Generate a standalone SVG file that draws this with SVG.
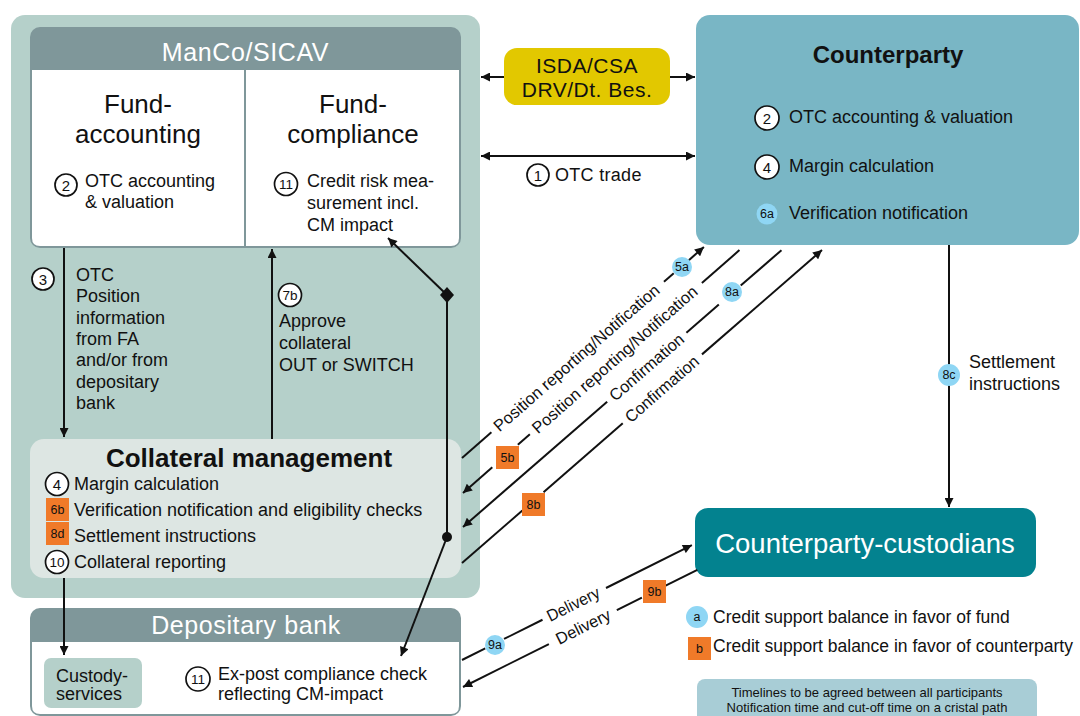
<svg xmlns="http://www.w3.org/2000/svg" width="1080" height="716" viewBox="0 0 1080 716">
<defs>
<marker id="ah" viewBox="0 0 10 10" refX="10" refY="5" markerWidth="10" markerHeight="9" markerUnits="userSpaceOnUse" orient="auto">
<path d="M0,0 L10,5 L0,10 Z" fill="#111"/>
</marker>
<marker id="ahs" viewBox="0 0 10 10" refX="0" refY="5" markerWidth="10" markerHeight="9" markerUnits="userSpaceOnUse" orient="auto">
<path d="M10,0 L0,5 L10,10 Z" fill="#111"/>
</marker>
<style>
text{font-family:"Liberation Sans",Arial,sans-serif;fill:#111}
.b{font-size:18px}
.h{font-size:26px}
.w{fill:#fff}
.lab{font-size:16.5px}
.cn{fill:#fff;stroke:#111;stroke-width:1.7}
.nt{font-size:15px;text-anchor:middle}
.nt2{font-size:13.5px;text-anchor:middle}
.lb{fill:#8fd6f4}
.or{fill:#f07a29}
.bt{font-size:12.5px;text-anchor:middle}
.ln{stroke:#111;stroke-width:2;fill:none}
.mid{text-anchor:middle}
</style>
</defs>

<g id="manco">
<rect x="11" y="15" width="469" height="583" rx="14" fill="#b5d0ca"/>
<rect x="30" y="27" width="431" height="221" rx="10" fill="#7f979a"/>
<path d="M32,70 H459 V238 Q459,246 451,246 H40 Q32,246 32,238 Z" fill="#fff"/>
<line x1="245" y1="70" x2="245" y2="246" stroke="#7f979a" stroke-width="2"/>
<text x="245.5" y="61" class="mid w" font-size="25" letter-spacing="0.6">ManCo/SICAV</text>
</g>

<g id="fund-accounting">
<text x="138" y="113" class="h mid">Fund-</text>
<text x="138" y="143" class="h mid">accounting</text>
<circle cx="66" cy="185" r="11" class="cn"/><text x="66" y="190.5" class="nt">2</text>
<text x="85" y="187" class="b">OTC accounting</text>
<text x="85" y="208" class="b">&amp; valuation</text>
</g>

<g id="fund-compliance">
<text x="353" y="113" class="h mid">Fund-</text>
<text x="353" y="143" class="h mid">compliance</text>
<circle cx="286" cy="184" r="11.5" class="cn"/><text x="286" y="189" class="nt2">11</text>
<text x="307" y="187" class="b">Credit risk mea-</text>
<text x="307" y="209" class="b">surement incl.</text>
<text x="307" y="231" class="b">CM impact</text>
</g>

<g id="collateral-management">
<rect x="30" y="439" width="431" height="139" rx="14" fill="#dde6e3"/>
<text x="249" y="467" class="mid" font-size="26" font-weight="bold">Collateral management</text>
<circle cx="57" cy="484" r="11.5" class="cn"/><text x="57" y="489.5" class="nt">4</text>
<text x="74" y="490" class="b">Margin calculation</text>
<rect x="46" y="498" width="23" height="23" class="or"/><text x="57.5" y="514" class="bt">6b</text>
<text x="74" y="516" class="b">Verification notification and eligibility checks</text>
<rect x="46" y="522" width="23" height="23" class="or"/><text x="57.5" y="538" class="bt">8d</text>
<text x="74" y="542" class="b">Settlement instructions</text>
<circle cx="57" cy="562" r="11.5" class="cn"/><text x="57" y="567" class="nt2">10</text>
<text x="74" y="568" class="b">Collateral reporting</text>
</g>

<g id="depositary-bank">
<rect x="30" y="608" width="431" height="108" rx="10" fill="#7f979a"/>
<path d="M32,642 H459 V706 Q459,714 451,714 H40 Q32,714 32,706 Z" fill="#fff"/>
<text x="246" y="634" class="mid w" font-size="25" letter-spacing="0.6">Depositary bank</text>
<rect x="44" y="658" width="98" height="50" rx="7" fill="#b5d0ca"/>
<text x="56" y="682" class="b">Custody-</text>
<text x="56" y="700" class="b">services</text>
<circle cx="198" cy="679" r="12" class="cn"/><text x="198" y="684" class="nt2">11</text>
<text x="218" y="680" class="b">Ex-post compliance check</text>
<text x="218" y="700" class="b">reflecting CM-impact</text>
</g>

<g id="isda">
<rect x="504" y="48" width="166" height="57" rx="13" fill="#e2c800"/>
<text x="587" y="73" class="mid" font-size="21" letter-spacing="0.5">ISDA/CSA</text>
<text x="587" y="97" class="mid" font-size="21" letter-spacing="0.5">DRV/Dt. Bes.</text>
</g>

<g id="counterparty">
<rect x="696" y="15" width="383" height="230" rx="14" fill="#79b6c5"/>
<text x="888" y="63" class="mid" font-size="24" font-weight="bold">Counterparty</text>
<circle cx="767" cy="118" r="12" class="cn"/><text x="767" y="123.5" class="nt">2</text>
<text x="789" y="123" class="b">OTC accounting &amp; valuation</text>
<circle cx="767" cy="167" r="12" class="cn"/><text x="767" y="172.5" class="nt">4</text>
<text x="789" y="172" class="b">Margin calculation</text>
<circle cx="767" cy="214" r="10.5" class="lb"/><text x="767" y="218" class="bt" font-size="11.5">6a</text>
<text x="789" y="219" class="b">Verification notification</text>
</g>

<g id="counterparty-custodians">
<rect x="695" y="508" width="341" height="69" rx="13" fill="#03828f"/>
<text x="865" y="553" class="mid w" font-size="27.5">Counterparty-custodians</text>
</g>

<g id="legend">
<circle cx="697" cy="617" r="11" class="lb"/><text x="697" y="621" class="bt">a</text>
<text x="713" y="623" font-size="17.5">Credit support balance in favor of fund</text>
<rect x="688" y="637" width="23" height="23" class="or"/><text x="699.5" y="653" class="bt">b</text>
<text x="713" y="652" font-size="17.5">Credit support balance in favor of counterparty</text>
</g>

<g id="timelines">
<rect x="697" y="679" width="340" height="50" rx="8" fill="#a8cdd6"/>
<text x="867" y="697" class="mid" font-size="13">Timelines to be agreed between all participants</text>
<text x="867" y="712" class="mid" font-size="13">Notification time and cut-off time on a cristal path</text>
</g>

<g id="connectors">
<line x1="504" y1="77" x2="481" y2="77" class="ln" marker-end="url(#ah)"/>
<line x1="670" y1="77" x2="695" y2="77" class="ln" marker-end="url(#ah)"/>
<line x1="481" y1="156" x2="695" y2="156" class="ln" marker-start="url(#ahs)" marker-end="url(#ah)"/>
<circle cx="538" cy="175" r="11" class="cn"/><text x="538" y="180.5" class="nt">1</text>
<text x="555" y="181" class="b" letter-spacing="0.3">OTC trade</text>
<line x1="64" y1="248" x2="64" y2="437" class="ln" marker-end="url(#ah)"/>
<circle cx="43" cy="279" r="11" class="cn"/><text x="43" y="284.5" class="nt">3</text>
<text x="76" y="281" class="b">OTC</text>
<text x="76" y="302" class="b">Position</text>
<text x="76" y="324" class="b">information</text>
<text x="76" y="345" class="b">from FA</text>
<text x="76" y="366" class="b">and/or from</text>
<text x="76" y="388" class="b">depositary</text>
<text x="76" y="409" class="b">bank</text>
<line x1="272" y1="439" x2="272" y2="249" class="ln" marker-end="url(#ah)"/>
<circle cx="290" cy="295" r="11.5" class="cn"/><text x="290" y="300" class="nt2">7b</text>
<text x="279" y="327" class="b">Approve</text>
<text x="279" y="349" class="b">collateral</text>
<text x="279" y="371" class="b">OUT or SWITCH</text>
<line x1="447" y1="295" x2="388" y2="238" class="ln" marker-end="url(#ah)"/>
<path d="M447,287 L454,295 L447,303 L440,295 Z" fill="#111"/>
<line x1="447" y1="295" x2="447" y2="537" class="ln"/>
<circle cx="447" cy="537" r="5" fill="#111"/>
<line x1="447" y1="537" x2="401" y2="656" class="ln" marker-end="url(#ah)"/>
<line x1="64" y1="578" x2="64" y2="655" class="ln" marker-end="url(#ah)"/>
<line x1="949" y1="245" x2="949" y2="507" class="ln" marker-end="url(#ah)"/>
<circle cx="949" cy="375" r="11" class="lb"/><text x="949" y="379" class="bt">8c</text>
<text x="969" y="368" class="b">Settlement</text>
<text x="969" y="390" class="b">instructions</text>

<g transform="translate(462,458) rotate(-41.1)">
<line x1="0" y1="0" x2="39" y2="0" class="ln"/>
<text x="45" y="5.5" class="lab" textLength="214" lengthAdjust="spacingAndGlyphs">Position reporting/Notification</text>
<line x1="268" y1="0" x2="281" y2="0" class="ln"/>
<line x1="301" y1="0" x2="321" y2="0" class="ln" marker-end="url(#ah)"/>
</g>
<circle cx="682" cy="267" r="10" class="lb"/><text x="682" y="271" class="bt">5a</text>
<g transform="translate(463,493) rotate(-41.3)">
<line x1="39" y1="0" x2="0" y2="0" class="ln" marker-end="url(#ah)"/>
<line x1="73" y1="0" x2="89" y2="0" class="ln"/>
<text x="95" y="5.5" class="lab" textLength="214" lengthAdjust="spacingAndGlyphs">Position reporting/Notification</text>
<line x1="318" y1="0" x2="368" y2="0" class="ln"/>
</g>
<rect x="496" y="446" width="23" height="23" class="or"/><text x="507.5" y="462" class="bt">5b</text>
<g transform="translate(463,527) rotate(-41)">
<line x1="191" y1="0" x2="0" y2="0" class="ln" marker-end="url(#ah)"/>
<text x="197" y="5.5" class="lab" textLength="93" lengthAdjust="spacingAndGlyphs">Confirmation</text>
<line x1="296" y1="0" x2="339" y2="0" class="ln"/>
<line x1="368" y1="0" x2="422" y2="0" class="ln"/>
</g>
<circle cx="732" cy="292" r="10" class="lb"/><text x="732" y="296" class="bt">8a</text>
<g transform="translate(462,563) rotate(-41)">
<line x1="0" y1="0" x2="80" y2="0" class="ln"/>
<line x1="108" y1="0" x2="213" y2="0" class="ln"/>
<text x="219" y="5.5" class="lab" textLength="92" lengthAdjust="spacingAndGlyphs">Confirmation</text>
<line x1="318" y1="0" x2="477" y2="0" class="ln" marker-end="url(#ah)"/>
</g>
<rect x="522" y="493" width="23" height="23" class="or"/><text x="533.5" y="509" class="bt">8b</text>
<g transform="translate(462,660) rotate(-26.57)">
<line x1="0" y1="0" x2="26" y2="0" class="ln"/>
<line x1="47" y1="0" x2="90" y2="0" class="ln"/>
<text x="96" y="5.5" class="lab" textLength="57" lengthAdjust="spacingAndGlyphs">Delivery</text>
<line x1="161" y1="0" x2="257" y2="0" class="ln" marker-end="url(#ah)"/>
</g>
<circle cx="495" cy="645" r="10" class="lb"/><text x="495" y="649" class="bt">9a</text>
<g transform="translate(463,687) rotate(-26.57)">
<line x1="96" y1="0" x2="0" y2="0" class="ln" marker-end="url(#ah)"/>
<text x="105" y="5.5" class="lab" textLength="59" lengthAdjust="spacingAndGlyphs">Delivery</text>
<line x1="172" y1="0" x2="200" y2="0" class="ln"/>
<line x1="226" y1="0" x2="262" y2="0" class="ln"/>
</g>
<rect x="643" y="580" width="23" height="23" class="or"/><text x="654.5" y="596" class="bt">9b</text>
</g>
</svg>
